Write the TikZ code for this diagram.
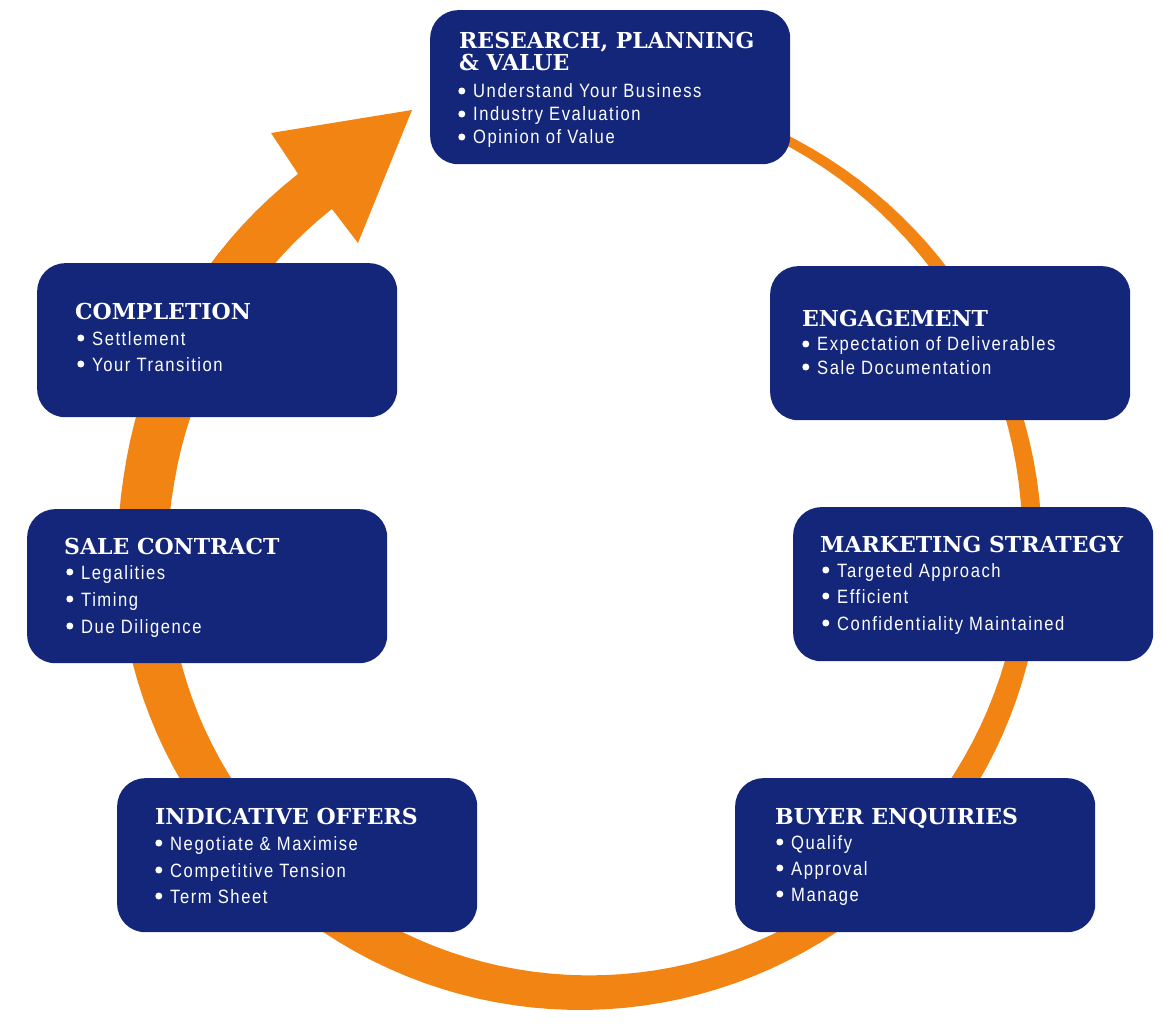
\documentclass[tikz,border=0pt]{standalone}
\usepackage{fontspec}
\newfontfamily\headfont{DejaVu Serif}
\newfontfamily\bodyfont{Liberation Sans}[FakeStretch=0.86,LetterSpace=8]
\definecolor{navy}{HTML}{13267A}
\definecolor{ringorange}{HTML}{F28413}
\tikzset{
  stage/.style={fill=navy, rounded corners=28pt, minimum width=360pt, minimum height=154pt, inner sep=0pt, anchor=north west},
  head/.style={anchor=base west, inner sep=0pt, text=white, font=\headfont\bfseries\fontsize{22}{22}\selectfont},
  dot/.style={circle, fill=white, inner sep=0pt, minimum size=7pt},
  item/.style={anchor=base west, inner sep=0pt, text=white, text height=14pt, text depth=0pt,
    font=\bodyfont\fontsize{19.3}{20}\selectfont, label={[dot, label distance=7.5pt]left:{}}}
}
\begin{document}
\begin{tikzpicture}[x=1pt,y=-1pt]
\useasboundingbox (0,0) rectangle (1165,1024);
% ring with arrow
\fill[ringorange] plot[domain=0:323, samples=140, variable=\t]
   ({580+(462+max(0,0.15*(\t-280)))*cos(90-\t)}, {548-(462+max(0,0.15*(\t-280)))*sin(90-\t)})
   -- (271,133) -- (412,110) -- (358,243) -- (332,209)
   -- plot[domain=323.5:0, samples=140, variable=\t]
   ({580+(462-min(5+0.165*\t,51,51-0.27*(\t-290)))*cos(90-\t)}, {548-(462-min(5+0.165*\t,51,51-0.27*(\t-290)))*sin(90-\t)})
   -- cycle;
% boxes
\node[stage] (research) at (430,10) {};
\node[stage] (engagement) at (770,266) {};
\node[stage] (marketing) at (793,507) {};
\node[stage] (buyer) at (735,778) {};
\node[stage] (offers) at (117,778) {};
\node[stage] (contract) at (27,509) {};
\node[stage] (completion) at (37,263) {};
% research
\node[head] (h1a) at (459,49) {RESEARCH, PLANNING};
\node[head] (h1b) at (459,71) {\& VALUE};
\node[item] (i1a) at (473,98) {Understand Your Business};
\node[item] (i1b) at (473,121) {Industry Evaluation};
\node[item] (i1c) at (473,144) {Opinion of Value};
% engagement
\node[head] (h2) at (802,327) {ENGAGEMENT};
\node[item] (i2a) at (817,351) {Expectation of Deliverables};
\node[item] (i2b) at (817,374) {Sale Documentation};
% marketing
\node[head] (h3) at (820,552) {MARKETING STRATEGY};
\node[item] (i3a) at (837,577) {Targeted Approach};
\node[item] (i3b) at (837,603) {Efficient};
\node[item] (i3c) at (837,630) {Confidentiality Maintained};
% buyer
\node[head] (h4) at (775,824) {BUYER ENQUIRIES};
\node[item] (i4a) at (791,849) {Qualify};
\node[item] (i4b) at (791,875) {Approval};
\node[item] (i4c) at (791,901) {Manage};
% offers
\node[head] (h5) at (155,824) {INDICATIVE OFFERS};
\node[item] (i5a) at (170,850) {Negotiate \& Maximise};
\node[item] (i5b) at (170,877) {Competitive Tension};
\node[item] (i5c) at (170,903) {Term Sheet};
% contract
\node[head] (h6) at (64,554) {SALE CONTRACT};
\node[item] (i6a) at (81,579) {Legalities};
\node[item] (i6b) at (81,606) {Timing};
\node[item] (i6c) at (81,633) {Due Diligence};
% completion
\node[head] (h7) at (75,320) {COMPLETION};
\node[item] (i7a) at (92,345) {Settlement};
\node[item] (i7b) at (92,371) {Your Transition};
\end{tikzpicture}
\end{document}
